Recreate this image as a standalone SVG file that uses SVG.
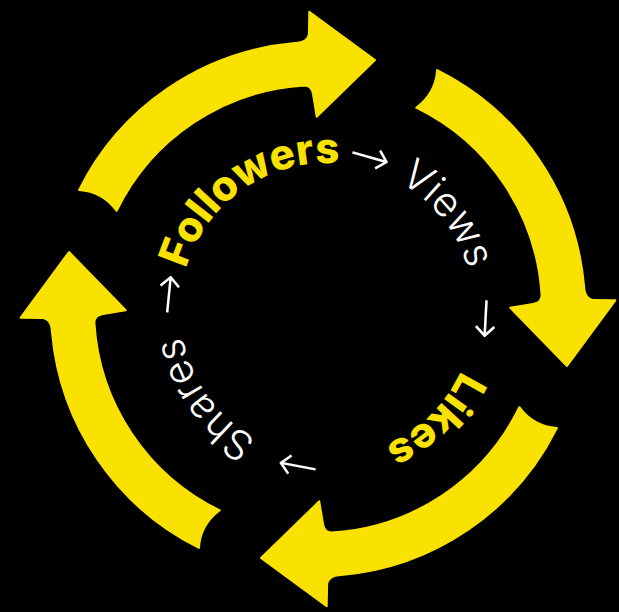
<svg xmlns="http://www.w3.org/2000/svg" width="619" height="612" viewBox="0 0 619 612">
<style>
.arrow{fill:#F9E100;stroke:#F9E100;stroke-width:2;stroke-linejoin:round}
.bold{font-family:Inter,"Noto Sans",sans-serif;font-weight:800;font-size:42px;fill:#F9E100}
.light{font-family:Inter,"Noto Sans",sans-serif;font-weight:300;font-size:41px;fill:#FFFFFF}
.sym{font-family:"DejaVu Sans",sans-serif;font-weight:200;font-size:50px;fill:#FFFFFF}
</style>
<defs>
<path id="bigArrow" d="M79.1,189.9 A267,267 0 0 1 294.7,43 Q308.6,42.2 308.9,33 L309.3,11.7 L375,60 L316.7,116.7 L313,94 Q311.8,85.5 304.3,85.4 A224,224 0 0 0 116.7,210.8 Q102.3,191.4 79.1,189.9 Z"/>
<path id="ring" d="M180,310 A147,147 0 1 1 474,310 A147,147 0 1 1 180,310"/>
<path id="ring2" d="M184,310 A143,143 0 1 1 470,310 A143,143 0 1 1 184,310"/>
</defs>
<rect width="619" height="612" fill="#000000"/>
<g id="connectors">
<use href="#bigArrow" class="arrow"/>
<use href="#bigArrow" class="arrow" transform="rotate(90 318 309)"/>
<use href="#bigArrow" class="arrow" transform="rotate(180 318 309)"/>
<use href="#bigArrow" class="arrow" transform="rotate(270 318 309)"/>
<text class="sym" text-anchor="middle"><textPath href="#ring2" startOffset="263.8">→</textPath></text>
<text class="sym" text-anchor="middle"><textPath href="#ring2" startOffset="456.7">→</textPath></text>
<text class="sym" text-anchor="middle"><textPath href="#ring2" startOffset="700.1">→</textPath></text>
<text class="sym" text-anchor="middle"><textPath href="#ring2" startOffset="14.2">→</textPath></text>
</g>
<g id="node-followers"><text class="bold" text-anchor="middle"><textPath href="#ring" startOffset="142.4">Followers</textPath></text></g>
<g id="node-views"><text class="light" text-anchor="middle"><textPath href="#ring" startOffset="363">Views</textPath></text></g>
<g id="node-likes"><text class="bold" text-anchor="middle"><textPath href="#ring" startOffset="578.5">Likes</textPath></text></g>
<g id="node-shares"><text class="light" text-anchor="middle"><textPath href="#ring" startOffset="831.2">Shares</textPath></text></g>
</svg>
